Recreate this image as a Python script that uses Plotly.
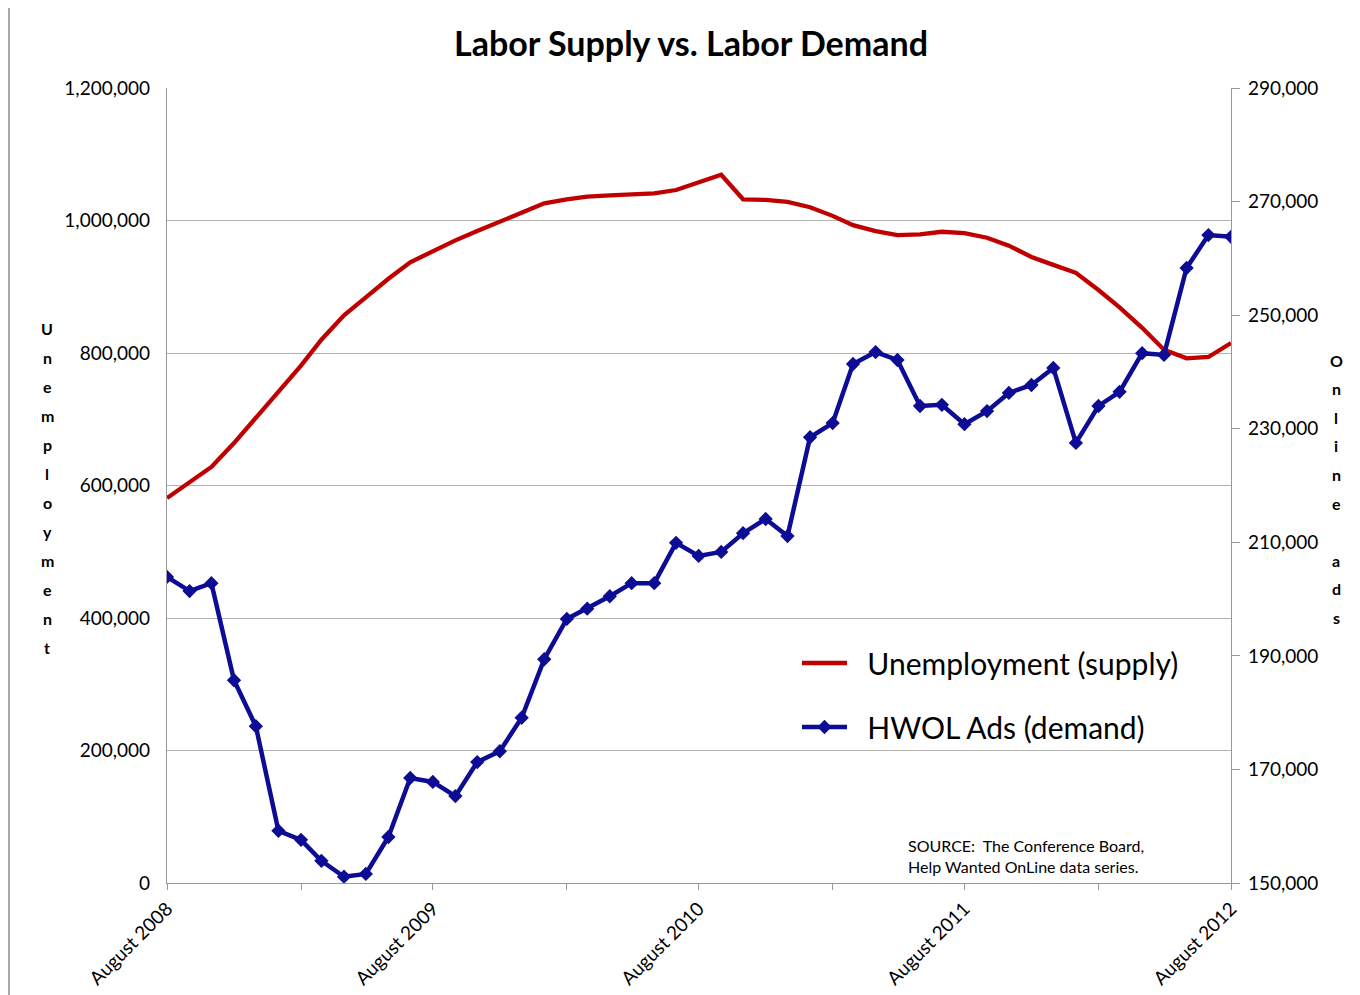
import plotly.graph_objects as go
import pandas as pd

# ---- data ----
months = pd.date_range("2008-08-01", periods=49, freq="MS")

unemployment = [
    581000, 604000, 628000, 664000, 702000, 742000, 781000, 820000, 857000, 884000,
    912000, 937000, 954000, 970000, 984000, 998000, 1013000, 1026000, 1032000, 1036000,
    1038000, 1039000, 1041000, 1046000, 1057000, 1069000, 1032000, 1031000, 1028000, 1020000,
    1007000, 993000, 984000, 978000, 979000, 983000, 981000, 974000, 962000, 945000,
    933000, 921000, 895000, 869000, 838000, 805000, 792000, 794000, 815000,
]

hwol_ads = [
    203900, 201400, 202800, 185700, 177600, 159200, 157600, 153900, 151100, 151600,
    158100, 168500, 167800, 165300, 171300, 173200, 179100, 189400, 196500, 198300,
    200500, 202800, 202800, 209900, 207600, 208300, 211600, 214100, 211100, 228500,
    231000, 241400, 243500, 242100, 234000, 234200, 230800, 233100, 236300, 237700,
    240700, 227500, 234000, 236500, 243300, 243000, 258300, 264100, 263800,
]

tick_dates = pd.date_range("2008-08-01", "2012-08-01", freq="6MS")
tick_text = [d.strftime("%B %Y") if d.month == 8 else "" for d in tick_dates]

left_ticks = list(range(0, 1200001, 200000))
right_ticks = list(range(150000, 290001, 20000))

left_title = "Unemployment"
right_title = "Online ads"

FONT = "Lato, 'Open Sans', sans-serif"
RED = "#c00000"
BLUE = "#0c0c94"
GRID = "#b3b3b3"
NB = "\u00a0"

fig = go.Figure()

fig.add_trace(go.Scatter(
    x=months, y=unemployment, name=NB * 2 + "Unemployment (supply)",
    mode="lines", line=dict(color=RED, width=4.3),
    legendgroup="a", yaxis="y",
))
fig.add_trace(go.Scatter(
    x=months, y=hwol_ads, name=NB * 2 + "HWOL Ads (demand)",
    mode="lines+markers", line=dict(color=BLUE, width=4.5),
    marker=dict(symbol="diamond", size=11, color=BLUE),
    legendgroup="b", yaxis="y2",
))

# page has an 8px body margin; work in page pixels and convert
OFF = 8
W, H = 1360 - OFF, 995 - OFF
L, R, T, B = 167 - OFF, 1231 - OFF, 88 - OFF, 883 - OFF


def px(xp):
    return (xp - OFF - L) / (R - L)


def py(yp):
    return (B - (yp - OFF)) / (B - T)


annotations = []
# vertical stacked axis titles
for i, ch in enumerate(left_title):
    annotations.append(dict(
        x=px(47), y=py(328 + i * 29), xref="paper", yref="paper",
        text=f"<b>{ch}</b>", showarrow=False, xanchor="center", yanchor="middle",
        font=dict(family=FONT, size=16, color="#000"),
    ))
for i, ch in enumerate(right_title):
    if ch == " ":
        continue
    annotations.append(dict(
        x=px(1336), y=py(360 + i * 28.6), xref="paper", yref="paper",
        text=f"<b>{ch}</b>", showarrow=False, xanchor="center", yanchor="middle",
        font=dict(family=FONT, size=16, color="#000"),
    ))

annotations.append(dict(
    x=px(906), y=py(834), xref="paper", yref="paper",
    text="SOURCE:  The Conference Board,<br>Help Wanted OnLine data series.",
    showarrow=False, xanchor="left", yanchor="top", align="left",
    font=dict(family=FONT, size=16, color="#000"),
))

shapes = [
    # chart frame (Excel chart border): left edge
    dict(type="line", xref="paper", yref="paper",
         x0=px(9), x1=px(9), y0=py(1000), y1=py(6),
         line=dict(color="#8c8c8c", width=1.5), layer="below"),
]

fig.update_layout(
    width=W, height=H, autosize=False,
    margin=dict(l=L, r=W - R, t=T, b=H - B, autoexpand=False),
    paper_bgcolor="white", plot_bgcolor="white",
    title=dict(text="<b>Labor Supply vs. Labor Demand</b>", x=(691 - OFF) / W, xanchor="center",
               y=1 - (44 - OFF) / H, yanchor="middle",
               font=dict(family=FONT, size=34, color="#000")),
    font=dict(family=FONT, color="#000"),
    xaxis=dict(
        range=[months[0], months[-1]], automargin=False,
        tickvals=tick_dates, ticktext=tick_text, tickangle=-45,
        ticks="outside", ticklen=6, tickcolor="#999999", tickwidth=1,
        showgrid=False, showline=True, linecolor="#999999", linewidth=1.2,
        tickfont=dict(family=FONT, size=19, color="#000"),
        zeroline=False,
    ),
    yaxis=dict(
        range=[0, 1200000], tickvals=left_ticks, tickformat=",", automargin=False,
        showgrid=True, gridcolor=GRID, gridwidth=1.2,
        showline=True, linecolor="#999999", linewidth=1.2,
        ticks="", zeroline=False, ticklabelstandoff=12,
        tickfont=dict(family=FONT, size=19, color="#000"),
    ),
    yaxis2=dict(
        range=[150000, 290000], tickvals=right_ticks, tickformat=",", automargin=False,
        overlaying="y", side="right", showgrid=False,
        showline=True, linecolor="#999999", linewidth=1.2,
        ticks="outside", ticklen=8, tickcolor="#999999",
        zeroline=False, ticklabelstandoff=4,
        tickfont=dict(family=FONT, size=19, color="#000"),
    ),
    legend=dict(
        x=px(797), y=py(637), xanchor="left", yanchor="top",
        bgcolor="rgba(255,255,255,0)", font=dict(family=FONT, size=30, color="#000"),
        tracegroupgap=22, itemwidth=45,
    ),
    annotations=annotations,
    shapes=shapes,
)

fig.write_html("out.html")
